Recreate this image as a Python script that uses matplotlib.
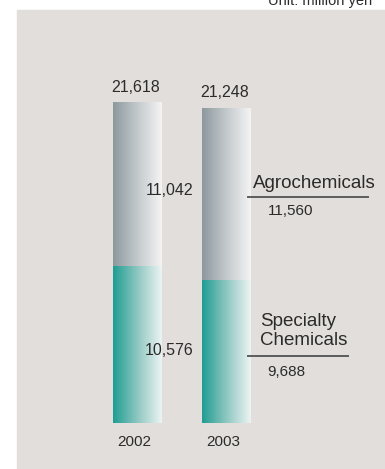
import numpy as np
import matplotlib.pyplot as plt
from matplotlib.colors import LinearSegmentedColormap
from matplotlib.patches import Rectangle

plt.rcParams['font.family'] = ['Liberation Sans', 'DejaVu Sans']

years = ['2002', '2003']
specialty = [10576, 9688]
agro = [11042, 11560]
totals = [21618, 21248]

txt = '#2b2b2b'
line_c = '#5c5c5c'

cm_agro = LinearSegmentedColormap.from_list('agro', ['#8d999e', '#c3c9cc', '#f4f4f4'])
cm_spec = LinearSegmentedColormap.from_list('spec', ['#1f9d93', '#8ec7c1', '#edf4f3'])

fig = plt.figure(figsize=(3.85, 4.69), dpi=100)
ax = fig.add_axes([0, 0, 1, 1])
ax.set_facecolor('none')
ax.axis('off')
ax.add_patch(Rectangle((17 / 385, 0), 1, (469 - 10) / 469,
                       transform=ax.transAxes, color='#e2dedb', zorder=0))

w = 0.55
grad = np.linspace(0, 1, 256).reshape(1, -1)

def gbar(x, y0, y1, cmap):
    ax.imshow(grad, cmap=cmap, aspect='auto', extent=(x - w / 2, x + w / 2, y0, y1),
              interpolation='bilinear', zorder=2)

for i in range(len(years)):
    gbar(i, 0, specialty[i], cm_spec)
    gbar(i, specialty[i], specialty[i] + agro[i], cm_agro)
    ax.annotate(f'{totals[i]:,}', (i, totals[i]), xytext=(-1, 6), textcoords='offset points',
                ha='center', va='bottom', fontsize=11.5, color=txt)
    ax.annotate(years[i], (i, 0), xytext=(-2, -13.5), textcoords='offset points',
                ha='center', va='center', fontsize=11, color=txt)

# 89 px per category step, 0.0148 px per million yen, baseline 46 px above bottom
ax.set_xlim(-137.5 / 89, (385 - 137.5) / 89)
ax.set_ylim(-46 / 0.0148, 423 / 0.0148)

# 2002 segment values sit over the right edge of the bar
ax.annotate(f'{agro[0]:,}', (0.63, specialty[0] + agro[0] / 2), xytext=(0, -4),
            textcoords='offset points', ha='right', va='center', fontsize=11.5, color=txt)
ax.annotate(f'{specialty[0]:,}', (0.63, specialty[0] / 2), xytext=(0, -4),
            textcoords='offset points', ha='right', va='center', fontsize=11.5, color=txt)

# 2003 callouts
x0 = 1 + (248 - 226.5) / 89
ya = specialty[1] + agro[1] * 0.48
ax.plot([x0, 1 + (368 - 226.5) / 89], [ya, ya], color=line_c, lw=1.4, zorder=3)
ax.annotate('Agrochemicals', (x0, ya), xytext=(3.5, 10), textcoords='offset points',
            ha='left', va='center', fontsize=13.5, color=txt)
ax.annotate(f'{agro[1]:,}', (x0, ya), xytext=(14, -10), textcoords='offset points',
            ha='left', va='center', fontsize=11, color=txt)

ys = specialty[1] * 0.47
ax.plot([x0, 1 + (348 - 226.5) / 89], [ys, ys], color=line_c, lw=1.4, zorder=3)
ax.annotate('Specialty\nChemicals', (x0, ys), xytext=(8.5, 17.5), textcoords='offset points',
            ha='left', va='center', fontsize=13.5, color=txt, linespacing=1.15)
ax.annotate(f'{specialty[1]:,}', (x0, ys), xytext=(14, -11.5), textcoords='offset points',
            ha='left', va='center', fontsize=11, color=txt)

fig.text(372 / 385, 1 - 5 / 469, 'Unit: million yen', ha='right', va='baseline',
         fontsize=10.5, color=txt)

fig.savefig('out.png', dpi=100)
